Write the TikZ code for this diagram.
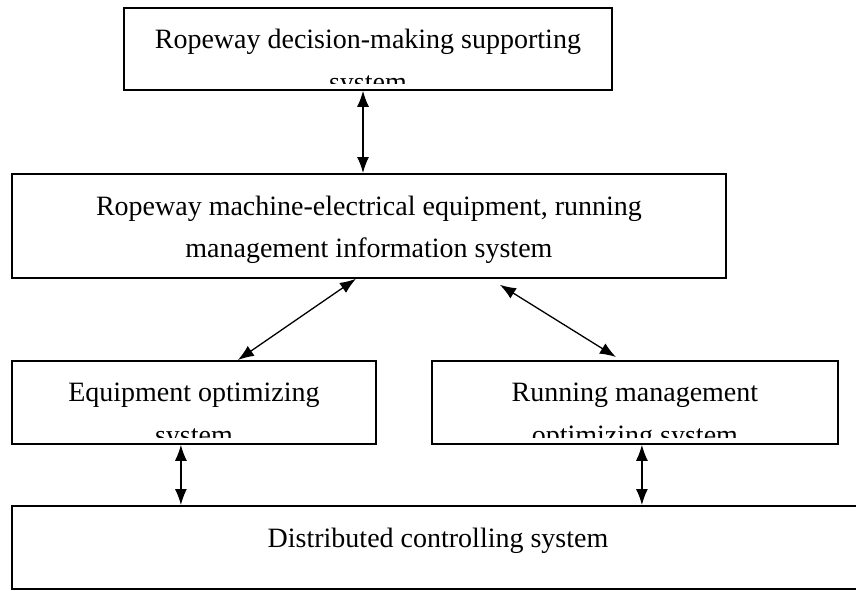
\documentclass[tikz,border=0pt]{standalone}
\usepackage{fontspec}
\setmainfont{Liberation Serif}
\usetikzlibrary{arrows.meta}
\tikzset{
  sysbox/.style={draw, line width=1.8pt, inner sep=0pt, anchor=north west},
  txt/.style={font=\fontsize{28}{34}\selectfont, anchor=base, inner sep=0pt},
  link/.style={{Latex[length=16pt,width=12pt]}-{Latex[length=16pt,width=12pt]}, line width=1.3pt},
}
\begin{document}
\begin{tikzpicture}[x=1pt,y=-1pt]
\useasboundingbox (0,0) rectangle (856,590);
\clip (0,0) rectangle (856,590);
% boxes
\node[sysbox, minimum width=488pt, minimum height=82pt] (dss) at (123,7) {};
\node[sysbox, minimum width=714pt, minimum height=104pt] (mis) at (11,173) {};
\node[sysbox, minimum width=364pt, minimum height=83pt] (equip) at (11,360) {};
\node[sysbox, minimum width=406pt, minimum height=83pt] (run) at (431,360) {};
\node[sysbox, minimum width=870pt, minimum height=83pt] (dcs) at (11,505) {};
% texts, cut at the lower edge of their box
\begin{scope}
\clip (dss.north west) rectangle ([yshift=7pt]dss.south east);
\node[txt] (dss1) at ([yshift=-41pt]dss.north) {Ropeway decision-making supporting};
\node[txt] (dss2) at ([yshift=-84pt]dss.north) {system};
\end{scope}
\node[txt] (mis1) at ([yshift=-42pt]mis.north) {Ropeway machine-electrical equipment, running};
\node[txt] (mis2) at ([yshift=-84pt]mis.north) {management information system};
\begin{scope}
\clip (equip.north west) rectangle ([yshift=7pt]equip.south east);
\node[txt] (equip1) at ([yshift=-41pt]equip.north) {Equipment optimizing};
\node[txt] (equip2) at ([yshift=-84pt]equip.north) {system};
\end{scope}
\begin{scope}
\clip (run.north west) rectangle ([yshift=7pt]run.south east);
\node[txt] (run1) at ([yshift=-41pt]run.north) {Running management};
\node[txt] (run2) at ([yshift=-84pt]run.north) {optimizing system};
\end{scope}
\node[txt] (dcs1) at ([yshift=-42pt]dcs.north -| 438,0) {Distributed controlling system};
% links
\draw[link] (dss.south -| 363,0) -- (mis.north -| 363,0);
\draw[link] ([xshift=-13pt]mis.south) -- ([xshift=44pt]equip.north);
\draw[link] ([xshift=131pt,yshift=-6pt]mis.south) -- ([xshift=-19pt,yshift=3pt]run.north);
\draw[link] ([xshift=-13pt]equip.south) -- ([xshift=-13pt]equip.south |- dcs.north);
\draw[link] ([xshift=7pt]run.south) -- ([xshift=7pt]run.south |- dcs.north);
\end{tikzpicture}
\end{document}
